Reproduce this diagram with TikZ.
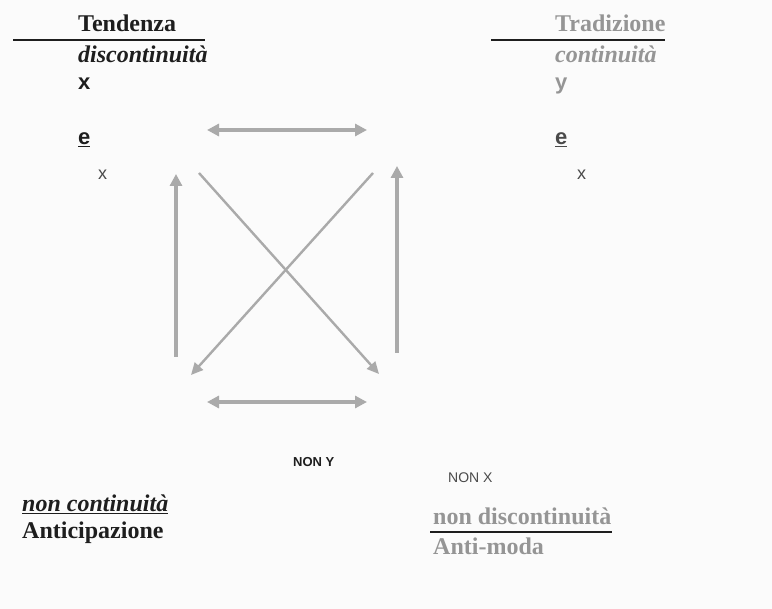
\documentclass[tikz,border=0pt]{standalone}
\usepackage{fontspec}
\setmainfont{Liberation Serif}
\setsansfont{Liberation Sans}
\usetikzlibrary{arrows.meta, positioning}
\definecolor{inkdark}{HTML}{1E1E1E}
\definecolor{inkgray}{HTML}{959595}
\definecolor{inkmid}{HTML}{4A4A4A}
\definecolor{arrowgray}{HTML}{AAAAAA}
\definecolor{paper}{HTML}{FBFBFB}
\tikzset{
  base/.style = {
    inner sep=0pt, anchor=base west
  },
  title/.style = {
    base, font=\fontsize{24}{28}\selectfont\bfseries
  },
  slant/.style = {
    base, font=\fontsize{24}{28}\selectfont\bfseries\itshape
  },
  letter/.style = {
    base, font=\fontsize{22}{26}\selectfont\sffamily\bfseries
  },
  small/.style = {
    base, font=\fontsize{18}{22}\selectfont\sffamily
  },
  tag/.style = {
    base, font=\fontsize{13}{16}\selectfont\sffamily
  },
  rule/.style = {
    line width=2pt, draw=inkdark
  },
  twoway/.style = {
    line width=3.5pt, draw=arrowgray,
    {Triangle[length=12pt,width=12pt]}-{Triangle[length=12pt,width=12pt]}
  },
  oneway/.style = {
    line width=3.5pt, draw=arrowgray, -{Triangle[length=12pt,width=12pt]}
  },
  cross/.style = {
    line width=2.4pt, draw=arrowgray, -{Triangle[length=12pt,width=11pt]}
  }
}

\begin{document}
\begin{tikzpicture}[x=1pt, y=-1pt]
  \fill[paper] (0,0) rectangle (772,609);
  \useasboundingbox (0,0) rectangle (772,609);

  % Left column
  \node[title, text=inkdark] (tendenza) at (78,32) {Tendenza};
  \node[slant, text=inkdark] (discont) at (78,63) {discontinuità};
  \node[letter, text=inkdark] (leftx) at (78,90) {x};
  \node[letter, text=inkdark] (lefte) at (78,145) {\underline{e}};
  \node[small, text=inkmid] (leftsx) at (98,180) {x};
  \draw[rule] (13,40) -- (205,40);

  % Right column
  \node[title, text=inkgray] (tradizione) at (555,32) {Tradizione};
  \node[slant, text=inkgray] (cont) at (555,63) {continuità};
  \node[letter, text=inkgray] (righty) at (555,90) {y};
  \node[letter, text=inkmid] (righte) at (555,145) {\underline{e}};
  \node[small, text=inkmid] (rightsx) at (577,180) {x};
  \draw[rule] (491,40) -- (665,40);

  % Square of arrows
  \coordinate (topL) at (207,130);
  \coordinate (topR) at (367,130);
  \coordinate (botL) at (207,402);
  \coordinate (botR) at (367,402);
  \coordinate (leftB) at (176,357);
  \coordinate (leftT) at (176,174);
  \coordinate (rightB) at (397,353);
  \coordinate (rightT) at (397,166);
  \coordinate (diagA) at (199,173);
  \coordinate (diagB) at (379,374);
  \coordinate (diagC) at (373,173);
  \coordinate (diagD) at (191,375);
  \draw[twoway] (topL) -- (topR);
  \draw[twoway] (botL) -- (botR);
  \draw[oneway] (leftB) -- (leftT);
  \draw[oneway] (rightB) -- (rightT);
  \draw[cross] (diagA) -- (diagB);
  \draw[cross] (diagC) -- (diagD);

  % Bottom row
  \node[tag, text=inkdark, font=\fontsize{13}{16}\selectfont\sffamily\bfseries] (nony) at (293,467) {NON Y};
  \node[tag, text=inkmid, font=\fontsize{14}{16}\selectfont\sffamily] (nonx) at (448,483) {NON X};
  \node[slant, text=inkdark] (noncont) at (22,512) {\underline{non continuità}};
  \node[title, text=inkdark] (anticip) at (22,539) {Anticipazione};
  \node[title, text=inkgray] (nondisc) at (433,525) {non discontinuità};
  \node[title, text=inkgray] (antimoda) at (433,555) {Anti-moda};
  \draw[rule] (430,532) -- (612,532);

\end{tikzpicture}
\end{document}
